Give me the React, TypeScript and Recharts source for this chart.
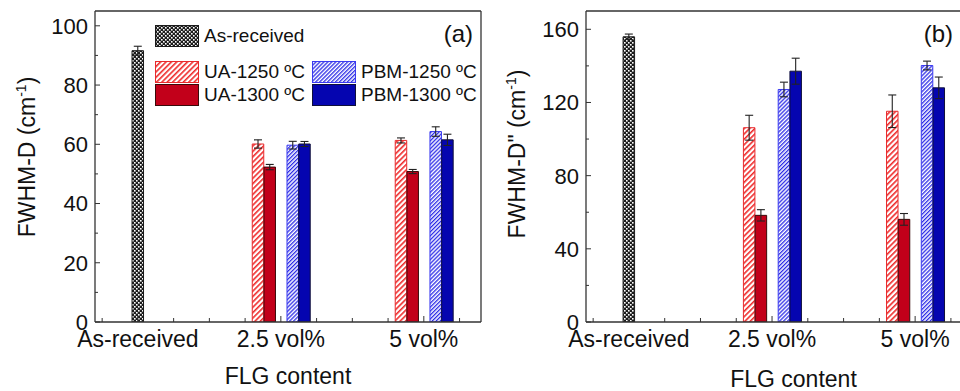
import React from 'react';
import { Bar, ComposedChart, ErrorBar, Label, Legend, XAxis, YAxis } from 'recharts';

const categories = ['As-received', '2.5 vol%', '5 vol%'];
const seriesKeys = ['asReceived', 'ua1250', 'ua1300', 'pbm1250', 'pbm1300'];
const seriesNames = ['As-received', 'UA-1250 ºC', 'UA-1300 ºC', 'PBM-1250 ºC', 'PBM-1300 ºC'];

// (a) FWHM-D
const aAsReceived = [91.6, null, null];
const aAsReceivedErr = [1.5, null, null];
const aUa1250 = [null, 60.1, 61.3];
const aUa1250Err = [null, 1.4, 0.85];
const aUa1300 = [null, 52.3, 50.8];
const aUa1300Err = [null, 0.9, 0.7];
const aPbm1250 = [null, 59.7, 64.3];
const aPbm1250Err = [null, 1.3, 1.6];
const aPbm1300 = [null, 60.1, 61.5];
const aPbm1300Err = [null, 0.85, 1.9];

// (b) FWHM-D"
const bAsReceived = [155.9, null, null];
const bAsReceivedErr = [1.5, null, null];
const bUa1250 = [null, 106.2, 115.2];
const bUa1250Err = [null, 6.8, 8.9];
const bUa1300 = [null, 58.3, 56.1];
const bUa1300Err = [null, 3.1, 3.2];
const bPbm1250 = [null, 127.1, 140.2];
const bPbm1250Err = [null, 4.0, 2.4];
const bPbm1300 = [null, 137.1, 128.0];
const bPbm1300Err = [null, 7.1, 5.9];

const aYTicks = [0, 10, 20, 30, 40, 50, 60, 70, 80, 90, 100];
const bYTicks = [0, 20, 40, 60, 80, 100, 120, 140, 160];
const aXTicks = [0.75, 1, 1.25, 1.5, 1.75, 2, 2.25, 2.5, 2.75, 3, 3.25];
const bXTicks = [0.75, 1, 1.25, 1.5, 1.75, 2, 2.25, 2.5, 2.75, 3, 3.25, 3.5];

const font = '"Liberation Sans", Arial, Helvetica, sans-serif';
const axisColor = '#333';

// position of each series inside a category group (x units)
const barOffset = [0, -0.159, -0.077, 0.084, 0.166];
const barStyles = [
  { fill: 'url(#checker)', stroke: '#1a1a1a' },
  { fill: 'url(#redHatch)', stroke: '#e82a2c' },
  { fill: '#c2001a', stroke: '#3a0a0a' },
  { fill: 'url(#blueHatch)', stroke: '#3a3af0' },
  { fill: '#0505b0', stroke: '#10103a' },
];
const legendSlots = [
  { left: 0, top: 0 },
  { left: 0, top: 36 },
  { left: 0, top: 59 },
  { left: 157, top: 36 },
  { left: 157, top: 59 },
];

const buildRows = (values, errors) => {
  const rows = [];
  seriesKeys.forEach((key, s) => {
    values[s].forEach((v, i) => {
      if (v == null) return;
      rows.push({ x: i + 1 + barOffset[s], [key]: v, [key + 'Err']: errors[s][i] });
    });
  });
  return rows.sort((p, q) => p.x - q.x);
};

const XTick = (props) => {
  const { x, y, payload } = props;
  const v = payload.value;
  const major = Number.isInteger(v);
  return (
    <g>
      <line x1={x} y1={y} x2={x} y2={y - (major ? 6 : 4)} stroke={axisColor} strokeWidth={1} />
      {major && (
        <text x={x} y={y + 25} textAnchor="middle" fontSize={23} fontFamily={font} fill="#111">
          {categories[v - 1]}
        </text>
      )}
    </g>
  );
};

const makeYTick = (step) => (props) => {
  const { x, y, payload } = props;
  const v = payload.value;
  const major = v % step === 0;
  return (
    <g>
      <line x1={x} y1={y} x2={x + (major ? 5 : 3)} y2={y} stroke={axisColor} strokeWidth={1} />
      {major && (
        <text x={x - 7} y={y} dy="0.36em" textAnchor="end" fontSize={22} fontFamily={font} fill="#111">
          {v}
        </text>
      )}
    </g>
  );
};

const Swatch = ({ s }) => (
  <svg width={44} height={22} style={{ position: 'absolute', left: 0, top: 0 }}>
    <rect x={0.5} y={0.5} width={43} height={21} fill={barStyles[s].fill} stroke={barStyles[s].stroke} />
  </svg>
);

const LegendBox = () => (
  <div style={{ position: 'relative', width: 330, height: 85, fontFamily: font, fontSize: 19, color: '#111' }}>
    {seriesNames.map((name, s) => (
      <div key={name} style={{ position: 'absolute', left: legendSlots[s].left, top: legendSlots[s].top, height: 22 }}>
        <Swatch s={s} />
        <span style={{ position: 'absolute', left: 49, top: 0, lineHeight: '22px', whiteSpace: 'nowrap' }}>{name}</span>
      </div>
    ))}
  </div>
);

const Panel = ({ left, width, yAxisWidth, values, errors, yMax, yTicks, yStep, xMax, xTicks, yTitle, letter, letterX, titleY, xTitleDy, withLegend }) => {
  const rows = buildRows(values, errors);
  return (
    <div style={{ position: 'absolute', left, top: 0 }}>
      <ComposedChart width={width} height={391} data={rows} margin={{ top: 10, right: 8, left: 0, bottom: 0 }}>
        <XAxis
          type="number"
          dataKey="x"
          domain={[0.7, xMax]}
          allowDataOverflow
          ticks={xTicks}
          interval={0}
          height={69}
          tickSize={0}
          tickMargin={0}
          tickLine={false}
          axisLine={{ stroke: axisColor, strokeWidth: 1.3 }}
          tick={(p) => <XTick {...p} />}
        >
          <Label
            content={({ viewBox }) => (
              <text x={viewBox.x + viewBox.width / 2} y={viewBox.y + xTitleDy} textAnchor="middle" fontSize={23} fontFamily={font} fill="#111">
                FLG content
              </text>
            )}
          />
        </XAxis>
        <XAxis
          xAxisId="top"
          orientation="top"
          type="number"
          dataKey="x"
          domain={[0.7, xMax]}
          allowDataOverflow
          height={1}
          tick={false}
          tickLine={false}
          axisLine={{ stroke: axisColor, strokeWidth: 1.3 }}
        >
          <Label
            content={({ viewBox }) => (
              <text x={letterX} y={viewBox.y + 32} textAnchor="end" fontSize={24} fontFamily={font} fill="#111">
                {letter}
              </text>
            )}
          />
        </XAxis>
        <YAxis
          type="number"
          domain={[0, yMax]}
          allowDataOverflow
          ticks={yTicks}
          interval={0}
          width={yAxisWidth}
          tickSize={0}
          tickMargin={0}
          tickLine={false}
          axisLine={{ stroke: axisColor, strokeWidth: 1.3 }}
          tick={makeYTick(yStep)}
        >
          <Label
            content={() => (
              <text
                x={35}
                y={titleY}
                transform={`rotate(-90 35 ${titleY})`}
                textAnchor="middle"
                fontSize={23}
                fontFamily={font}
                fill="#111"
              >
                {yTitle}
                <tspan dy={-9} fontSize={14}>-1</tspan>
                <tspan dy={9}>)</tspan>
              </text>
            )}
          />
        </YAxis>
        <YAxis
          yAxisId="right"
          orientation="right"
          type="number"
          domain={[0, yMax]}
          width={1}
          tick={false}
          tickLine={false}
          axisLine={{ stroke: axisColor, strokeWidth: 1.3 }}
        />
        {seriesKeys.map((key, s) => (
          <Bar
            key={key}
            dataKey={key}
            name={seriesNames[s]}
            stackId="one"
            barSize={11.5}
            fill={barStyles[s].fill}
            stroke={barStyles[s].stroke}
            strokeWidth={1}
            isAnimationActive={false}
          >
            <ErrorBar dataKey={key + 'Err'} direction="y" width={4} stroke="#222" strokeWidth={1.1} />
          </Bar>
        ))}
        {withLegend && (
          <Legend
            layout="horizontal"
            align="center"
            verticalAlign="middle"
            content={() => <LegendBox />}
            wrapperStyle={{ left: 155, top: 25, width: 330, height: 85 }}
          />
        )}
      </ComposedChart>
    </div>
  );
};

export default function App() {
  return (
    <div style={{ position: 'absolute', left: 0, top: 0, width: 960, height: 391, overflow: 'hidden', background: '#fff' }}>
      <svg width={0} height={0} style={{ position: 'absolute' }}>
        <defs>
          <pattern id="checker" width={4} height={4} patternUnits="userSpaceOnUse">
            <rect width={4} height={4} fill="#1c1c1c" />
            <rect x={0} y={0} width={1.6} height={1.6} fill="#fff" />
            <rect x={2} y={2} width={1.6} height={1.6} fill="#fff" />
          </pattern>
          <pattern id="redHatch" width={3.8} height={3.8} patternUnits="userSpaceOnUse" patternTransform="rotate(45)">
            <rect width={3.8} height={3.8} fill="#fff" />
            <rect x={0} y={0} width={1.6} height={3.8} fill="#ee2a2a" />
          </pattern>
          <pattern id="blueHatch" width={2.8} height={2.8} patternUnits="userSpaceOnUse" patternTransform="rotate(45)">
            <rect width={2.8} height={2.8} fill="#fff" />
            <rect x={0} y={0} width={1.3} height={2.8} fill="#2a2ae6" />
          </pattern>
        </defs>
      </svg>
      <Panel
        left={0}
        width={490}
        yAxisWidth={95}
        values={[aAsReceived, aUa1250, aUa1300, aPbm1250, aPbm1300]}
        errors={[aAsReceivedErr, aUa1250Err, aUa1300Err, aPbm1250Err, aPbm1300Err]}
        yMax={105}
        yTicks={aYTicks}
        yStep={20}
        xMax={3.4}
        xTicks={aXTicks}
        yTitle="FWHM-D (cm"
        letter="(a)"
        letterX={473}
        titleY={157}
        xTitleDy={62}
        withLegend
      />
      <Panel
        left={490}
        width={520}
        yAxisWidth={96}
        values={[bAsReceived, bUa1250, bUa1300, bPbm1250, bPbm1300]}
        errors={[bAsReceivedErr, bUa1250Err, bUa1300Err, bPbm1250Err, bPbm1300Err]}
        yMax={170}
        yTicks={bYTicks}
        yStep={40}
        xMax={3.6}
        xTicks={bXTicks}
        yTitle={'FWHM-D" (cm'}
        letter="(b)"
        letterX={463}
        titleY={154}
        xTitleDy={65}
        withLegend={false}
      />
    </div>
  );
}
